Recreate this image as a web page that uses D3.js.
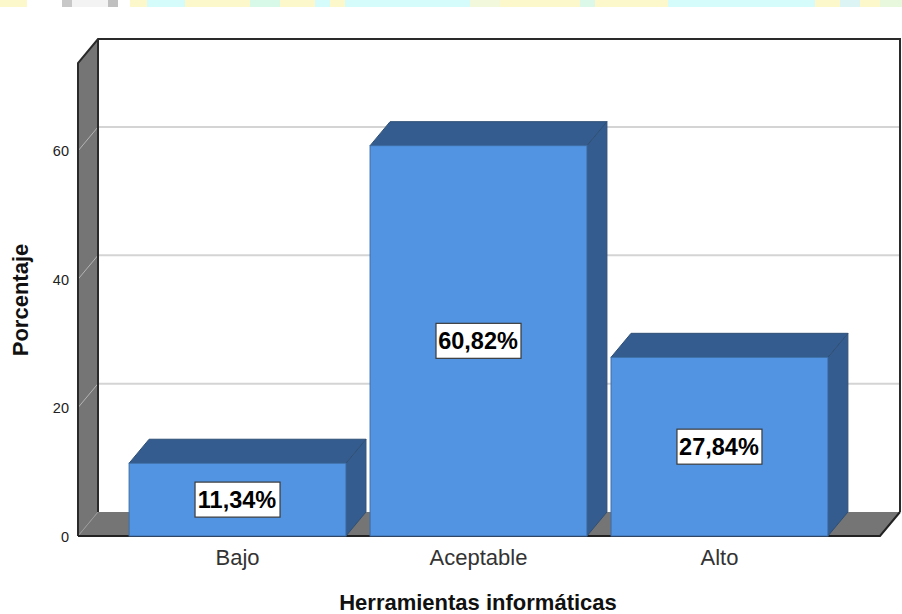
<!DOCTYPE html>
<html><head><meta charset="utf-8">
<script src="https://cdn.jsdelivr.net/npm/d3@7"></script>
<style>html,body{margin:0;padding:0;background:#fff}svg{display:block}text{font-family:"Liberation Sans",Arial,sans-serif}</style>
</head><body><svg id="c" width="902" height="614"></svg>
<script>
const categories = ["Bajo","Aceptable","Alto"];
const values = [11.34,60.82,27.84];
const valueLabels = ["11,34%","60,82%","27,84%"];
const yTicks = [0,20,40,60];
const xTitle = "Herramientas informáticas";
const yTitle = "Porcentaje";

const svg = d3.select("#c");
const dx = 20, dy = -24;
const pLeft = 78, pRight = 880, pBottom = 536, pTop = 63;
const y = d3.scaleLinear().domain([0,73.7]).range([pBottom,pTop]);
const x = d3.scaleBand().domain(categories).range([pLeft+27,pRight-28]).paddingInner(0.1).paddingOuter(0.1);
const poly = pts => pts.map(p=>p.join(",")).join(" ");

// cropped banner remnant along the top edge
const Y="#fdf8cc",C="#d6fbfb",W="#ffffff";
const strip = svg.append("g");
[[0,27,Y],[27,35,W],[62,10,"#c8c8c8"],[72,36,"#f3f3f3"],[108,10,"#c0c0c0"],[118,12,W],[130,17,Y],[147,38,C],[185,65,Y],[250,30,"#d8f8e8"],[280,35,Y],[315,15,C],[330,15,Y],[345,125,C],[470,30,"#f2f8dc"],[500,80,Y],[580,15,"#dcf8e8"],[595,73,Y],[668,147,C],[815,25,Y],[840,20,"#dcf4f4"],[860,20,Y],[880,22,"#e8f8dc"]]
 .forEach(d=>strip.append("rect").attr("x",d[0]).attr("y",0).attr("width",d[1]).attr("height",7).attr("fill",d[2]));

// back wall, side wall, floor
svg.append("rect").attr("x",pLeft+dx).attr("y",pTop+dy).attr("width",pRight-pLeft).attr("height",pBottom-pTop).attr("fill","#fff");
svg.append("polygon").attr("points",poly([[pLeft,pTop],[pLeft+dx,pTop+dy],[pLeft+dx,pBottom+dy],[pLeft,pBottom]])).attr("fill","#757575");
svg.append("polygon").attr("points",poly([[pLeft,pBottom],[pLeft+dx,pBottom+dy],[pRight+dx,pBottom+dy],[pRight,pBottom]])).attr("fill","#757575");

// gridlines
const grid = svg.append("g");
yTicks.filter(t=>t>0).forEach(t=>{
  grid.append("line").attr("x1",pLeft+dx).attr("x2",pRight+dx).attr("y1",y(t)+dy).attr("y2",y(t)+dy).attr("stroke","#d4d4d4").attr("stroke-width",2);
  grid.append("line").attr("x1",pLeft).attr("x2",pLeft+dx).attr("y1",y(t)).attr("y2",y(t)+dy).attr("stroke","#b4b4b4").attr("stroke-width",1);
});
svg.append("line").attr("x1",pLeft).attr("x2",pLeft+dx).attr("y1",pBottom).attr("y2",pBottom+dy).attr("stroke","#9a9a9a").attr("stroke-width",1);

// frame
const frame = svg.append("g").attr("fill","none");
frame.append("path").attr("d",`M${pLeft},${pBottom}V${pTop}L${pLeft+dx},${pTop+dy}H${pRight+dx}V${pBottom+dy}`).attr("stroke","#2a2a2a").attr("stroke-width",2);
frame.append("path").attr("d",`M${pLeft+dx},${pTop+dy}V${pBottom+dy}`).attr("stroke","#2a2a2a").attr("stroke-width",2);
frame.append("path").attr("d",`M${pLeft},${pBottom}H${pRight}L${pRight+dx},${pBottom+dy}`).attr("stroke","#222").attr("stroke-width",2);

// bars
const bars = svg.append("g").selectAll("g").data(categories).join("g");
bars.each(function(c,i){
  const g = d3.select(this), x0=x(c), x1=x0+x.bandwidth(), yt=y(values[i]);
  g.append("polygon").attr("points",poly([[x1,yt],[x1+dx,yt+dy],[x1+dx,pBottom+dy],[x1,pBottom]])).attr("fill","#345c8e").attr("stroke","#2f5076").attr("stroke-width",1);
  g.append("polygon").attr("points",poly([[x0,yt],[x0+dx,yt+dy],[x1+dx,yt+dy],[x1,yt]])).attr("fill","#345c8e").attr("stroke","#2f5076").attr("stroke-width",1);
  g.append("rect").attr("x",x0).attr("y",yt).attr("width",x1-x0).attr("height",pBottom-yt).attr("fill","#5294e2").attr("stroke","#3d6da6").attr("stroke-width",1);
});

// value labels
bars.each(function(c,i){
  const g = d3.select(this), cx=x(c)+x.bandwidth()/2, cy=(y(values[i])+pBottom)/2;
  g.append("rect").attr("x",cx-42.5).attr("y",cy-17.5).attr("width",85).attr("height",35).attr("fill","#fff").attr("stroke","#3a3a3a").attr("stroke-width",1.2);
  g.append("text").attr("x",cx-0.5).attr("y",cy+8).attr("text-anchor","middle").attr("font-size",23.5).attr("font-weight",700).attr("fill","#000").text(valueLabels[i]);
});

// y ticks
svg.append("g").selectAll("text").data(yTicks).join("text")
  .attr("x",69).attr("y",d=>y(d)+5.5).attr("text-anchor","end").attr("font-size",14.5).attr("fill","#222").text(d=>d);
// x labels
svg.append("g").selectAll("text").data(categories).join("text")
  .attr("x",d=>x(d)+x.bandwidth()/2).attr("y",565).attr("text-anchor","middle").attr("font-size",22).attr("fill","#333").text(d=>d);
// titles
svg.append("text").attr("x",478).attr("y",610).attr("text-anchor","middle").attr("font-size",22).attr("font-weight",700).attr("fill","#111").text(xTitle);
svg.append("text").attr("transform","translate(28,300) rotate(-90)").attr("text-anchor","middle").attr("font-size",22).attr("font-weight",700).attr("fill","#111").text(yTitle);
</script></body></html>
